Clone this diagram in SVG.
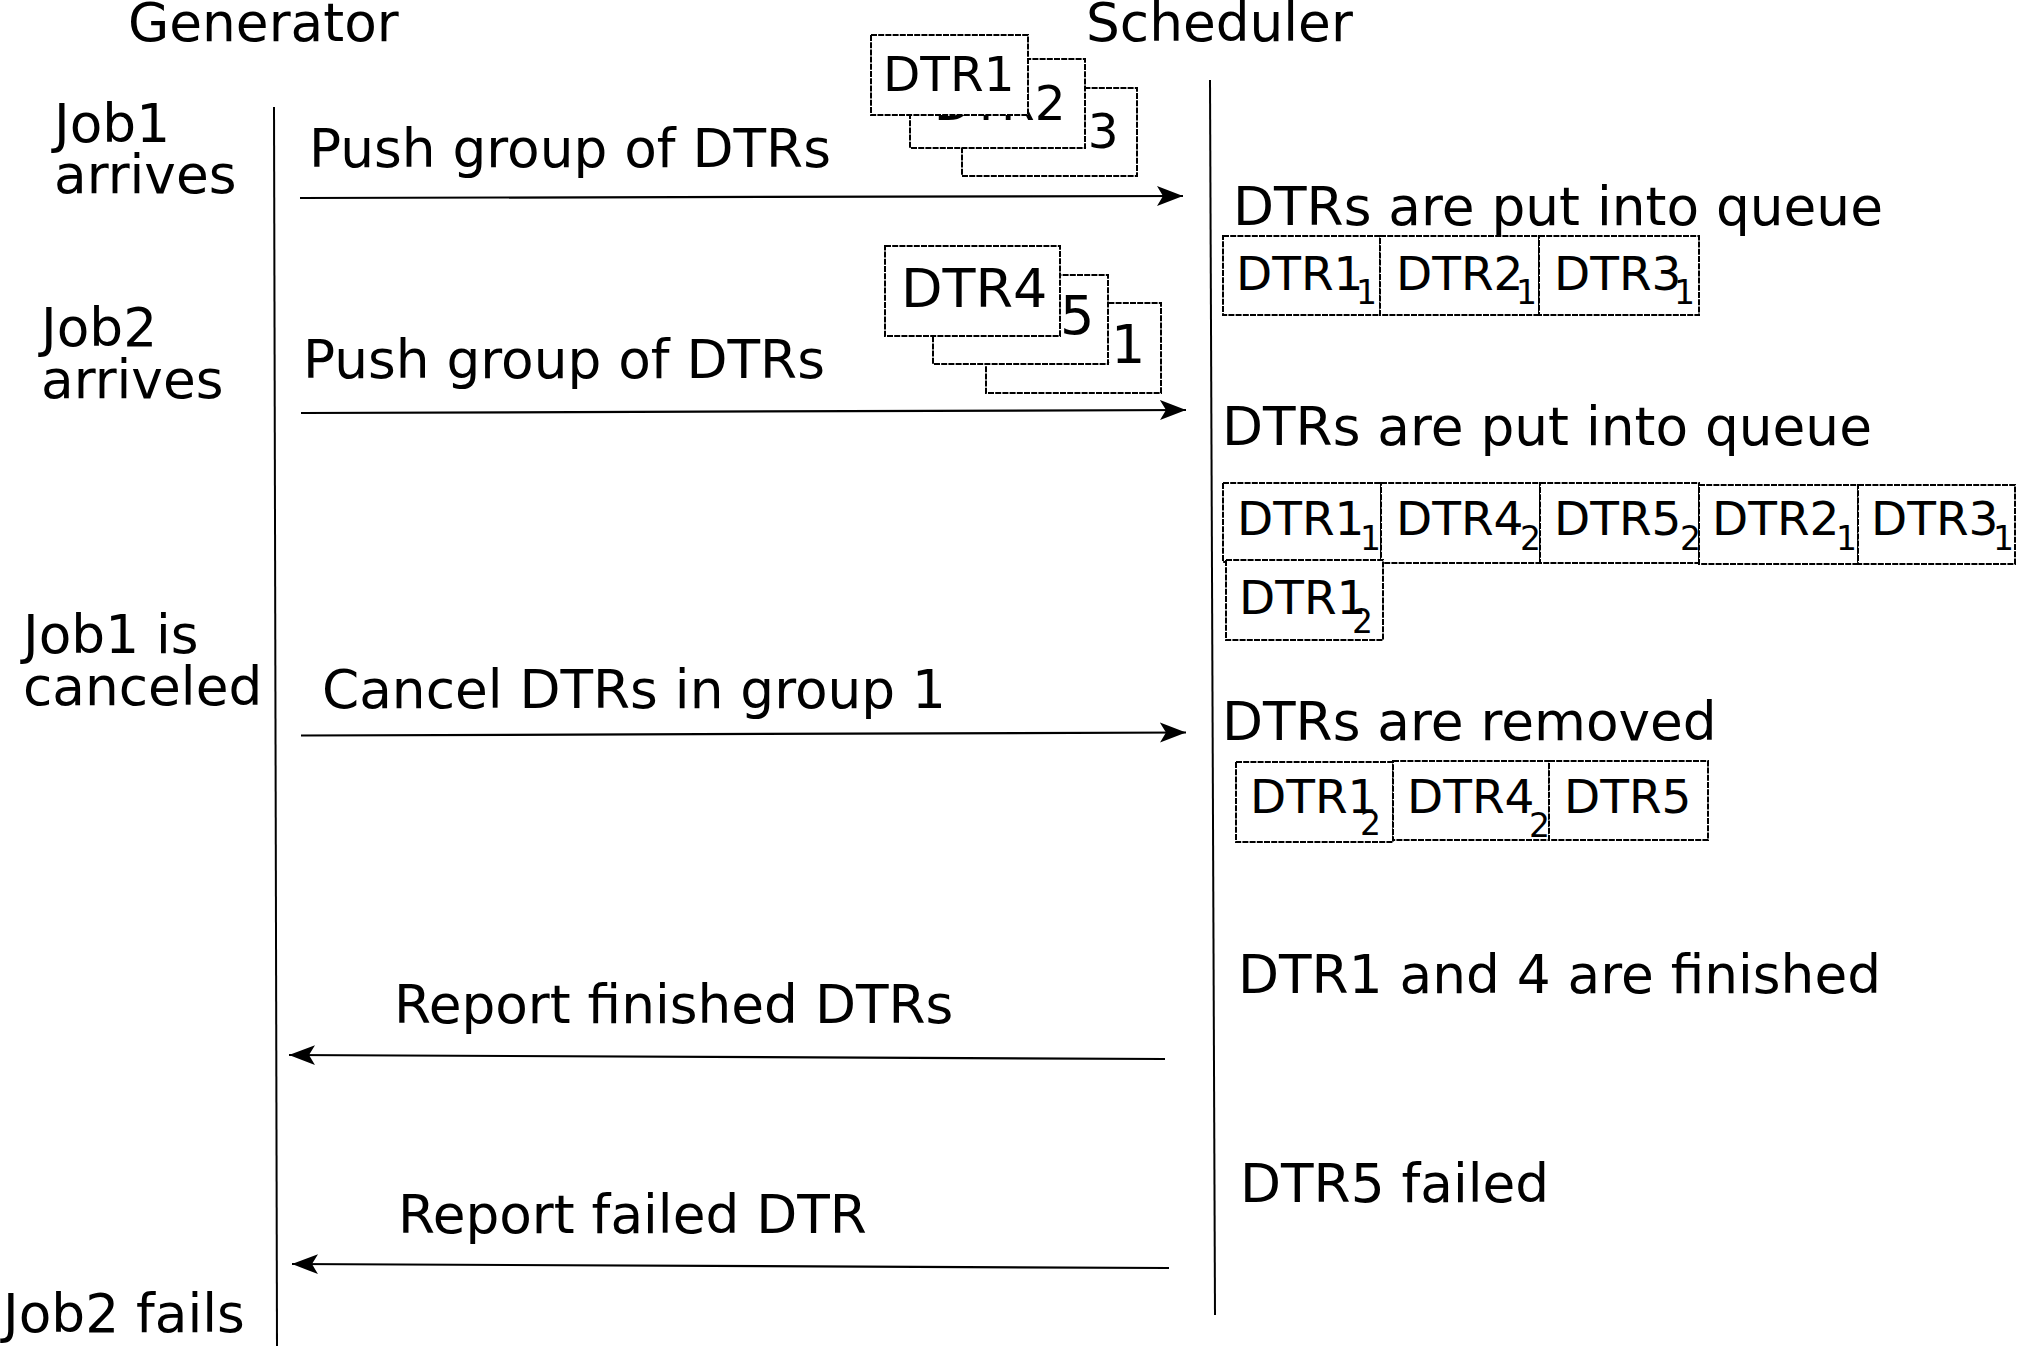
<svg xmlns="http://www.w3.org/2000/svg" width="2017" height="1346" viewBox="0 0 2017 1346">
<style>
text{font-family:"DejaVu Sans",sans-serif;fill:#000}
.t{font-size:53.3px}
.s1{font-size:48.5px}
.s2{font-size:54px}
.q{font-size:47px}
.sub{font-size:33px}
.box{fill:#fff;stroke:#000;stroke-width:2;stroke-dasharray:6 1.2}
.life{stroke:#000;stroke-width:2;fill:none}
.arr{stroke:#000;stroke-width:2.2;fill:none;marker-end:url(#ah)}
</style>
<defs>
<marker id="ah" markerUnits="userSpaceOnUse" markerWidth="30" markerHeight="24" viewBox="-26 -12 30 24" refX="0" refY="0" orient="auto">
<path d="M0,0 L-26,-10 L-20,0 L-26,10 Z" fill="#000"/>
</marker>
</defs>
<rect width="2017" height="1346" fill="#fff"/>

<g id="lifelines">
<line class="life" x1="274" y1="107" x2="277" y2="1346"/>
<line class="life" x1="1210" y1="80" x2="1215" y2="1315"/>
</g>

<g id="headers">
<text class="t" x="128" y="41">Generator</text>
<text class="t" x="1086" y="41">Scheduler</text>
</g>

<g id="generator-events">
<text class="t" x="54" y="142">Job1</text>
<text class="t" x="54" y="193">arrives</text>
<text class="t" x="41" y="346">Job2</text>
<text class="t" x="41" y="398">arrives</text>
<text class="t" x="23" y="653">Job1 is</text>
<text class="t" x="23" y="705">canceled</text>
<text class="t" x="3" y="1332">Job2 fails</text>
</g>

<g id="connectors">
<line class="arr" x1="300" y1="198" x2="1183" y2="196"/>
<line class="arr" x1="301" y1="413" x2="1186" y2="410"/>
<line class="arr" x1="301" y1="735.5" x2="1186" y2="732.5"/>
<line class="arr" x1="1165" y1="1059" x2="289" y2="1055"/>
<line class="arr" x1="1169" y1="1268" x2="292" y2="1264"/>
</g>

<g id="connector-labels">
<text class="t" x="309" y="167">Push group of DTRs</text>
<text class="t" x="303" y="378">Push group of DTRs</text>
<text class="t" x="322" y="708">Cancel DTRs in group 1</text>
<text class="t" x="394" y="1023">Report finished DTRs</text>
<text class="t" x="398" y="1233">Report failed DTR</text>
</g>

<g id="stack1">
<rect class="box" x="962" y="88" width="175" height="88"/>
<text class="s1" x="987" y="148">DTR3</text>
<rect class="box" x="910" y="59" width="175" height="89"/>
<text class="s1" x="934" y="120">DTR2</text>
<rect class="box" x="871" y="35" width="157" height="80"/>
<text class="s1" x="883" y="91">DTR1</text>
</g>

<g id="stack2">
<rect class="box" x="986" y="303" width="175" height="90"/>
<text class="s2" x="999" y="363">DTR1</text>
<rect class="box" x="933" y="275" width="175" height="89"/>
<text class="s2" x="948" y="334">DTR5</text>
<rect class="box" x="885" y="246" width="175" height="90"/>
<text class="s2" x="901" y="307">DTR4</text>
</g>

<g id="scheduler-events">
<text class="t" x="1233" y="225">DTRs are put into queue</text>
<text class="t" x="1222" y="445">DTRs are put into queue</text>
<text class="t" x="1222" y="740">DTRs are removed</text>
<text class="t" x="1238" y="993">DTR1 and 4 are finished</text>
<text class="t" x="1240" y="1202">DTR5 failed</text>
</g>

<g id="queue1">
<rect class="box" x="1223" y="236" width="157" height="79"/>
<rect class="box" x="1380" y="236" width="159" height="79"/>
<rect class="box" x="1539" y="236" width="160" height="79"/>
<text class="q" x="1236" y="290">DTR1</text><text class="sub" x="1356" y="304">1</text>
<text class="q" x="1396" y="290">DTR2</text><text class="sub" x="1516" y="304">1</text>
<text class="q" x="1554" y="290">DTR3</text><text class="sub" x="1674" y="304">1</text>
</g>

<g id="queue2">
<rect class="box" x="1223" y="483" width="158" height="79"/>
<rect class="box" x="1381" y="483" width="159" height="80"/>
<rect class="box" x="1540" y="483" width="159" height="80"/>
<rect class="box" x="1699" y="485" width="159" height="79"/>
<rect class="box" x="1858" y="485" width="157" height="79"/>
<rect class="box" x="1226" y="560" width="157" height="80"/>
<text class="q" x="1237" y="535">DTR1</text><text class="sub" x="1360" y="550">1</text>
<text class="q" x="1396" y="535">DTR4</text><text class="sub" x="1520" y="550">2</text>
<text class="q" x="1554" y="535">DTR5</text><text class="sub" x="1680" y="550">2</text>
<text class="q" x="1712" y="535">DTR2</text><text class="sub" x="1836" y="550">1</text>
<text class="q" x="1871" y="535">DTR3</text><text class="sub" x="1993" y="550">1</text>
<text class="q" x="1239" y="614">DTR1</text><text class="sub" x="1352" y="633">2</text>
</g>

<g id="queue3">
<rect class="box" x="1236" y="762" width="157" height="80"/>
<rect class="box" x="1393" y="761" width="156" height="79"/>
<rect class="box" x="1549" y="761" width="159" height="79"/>
<text class="q" x="1250" y="813">DTR1</text><text class="sub" x="1360" y="835">2</text>
<text class="q" x="1407" y="813">DTR4</text><text class="sub" x="1529" y="837">2</text>
<text class="q" x="1564" y="813">DTR5</text>
</g>
</svg>
